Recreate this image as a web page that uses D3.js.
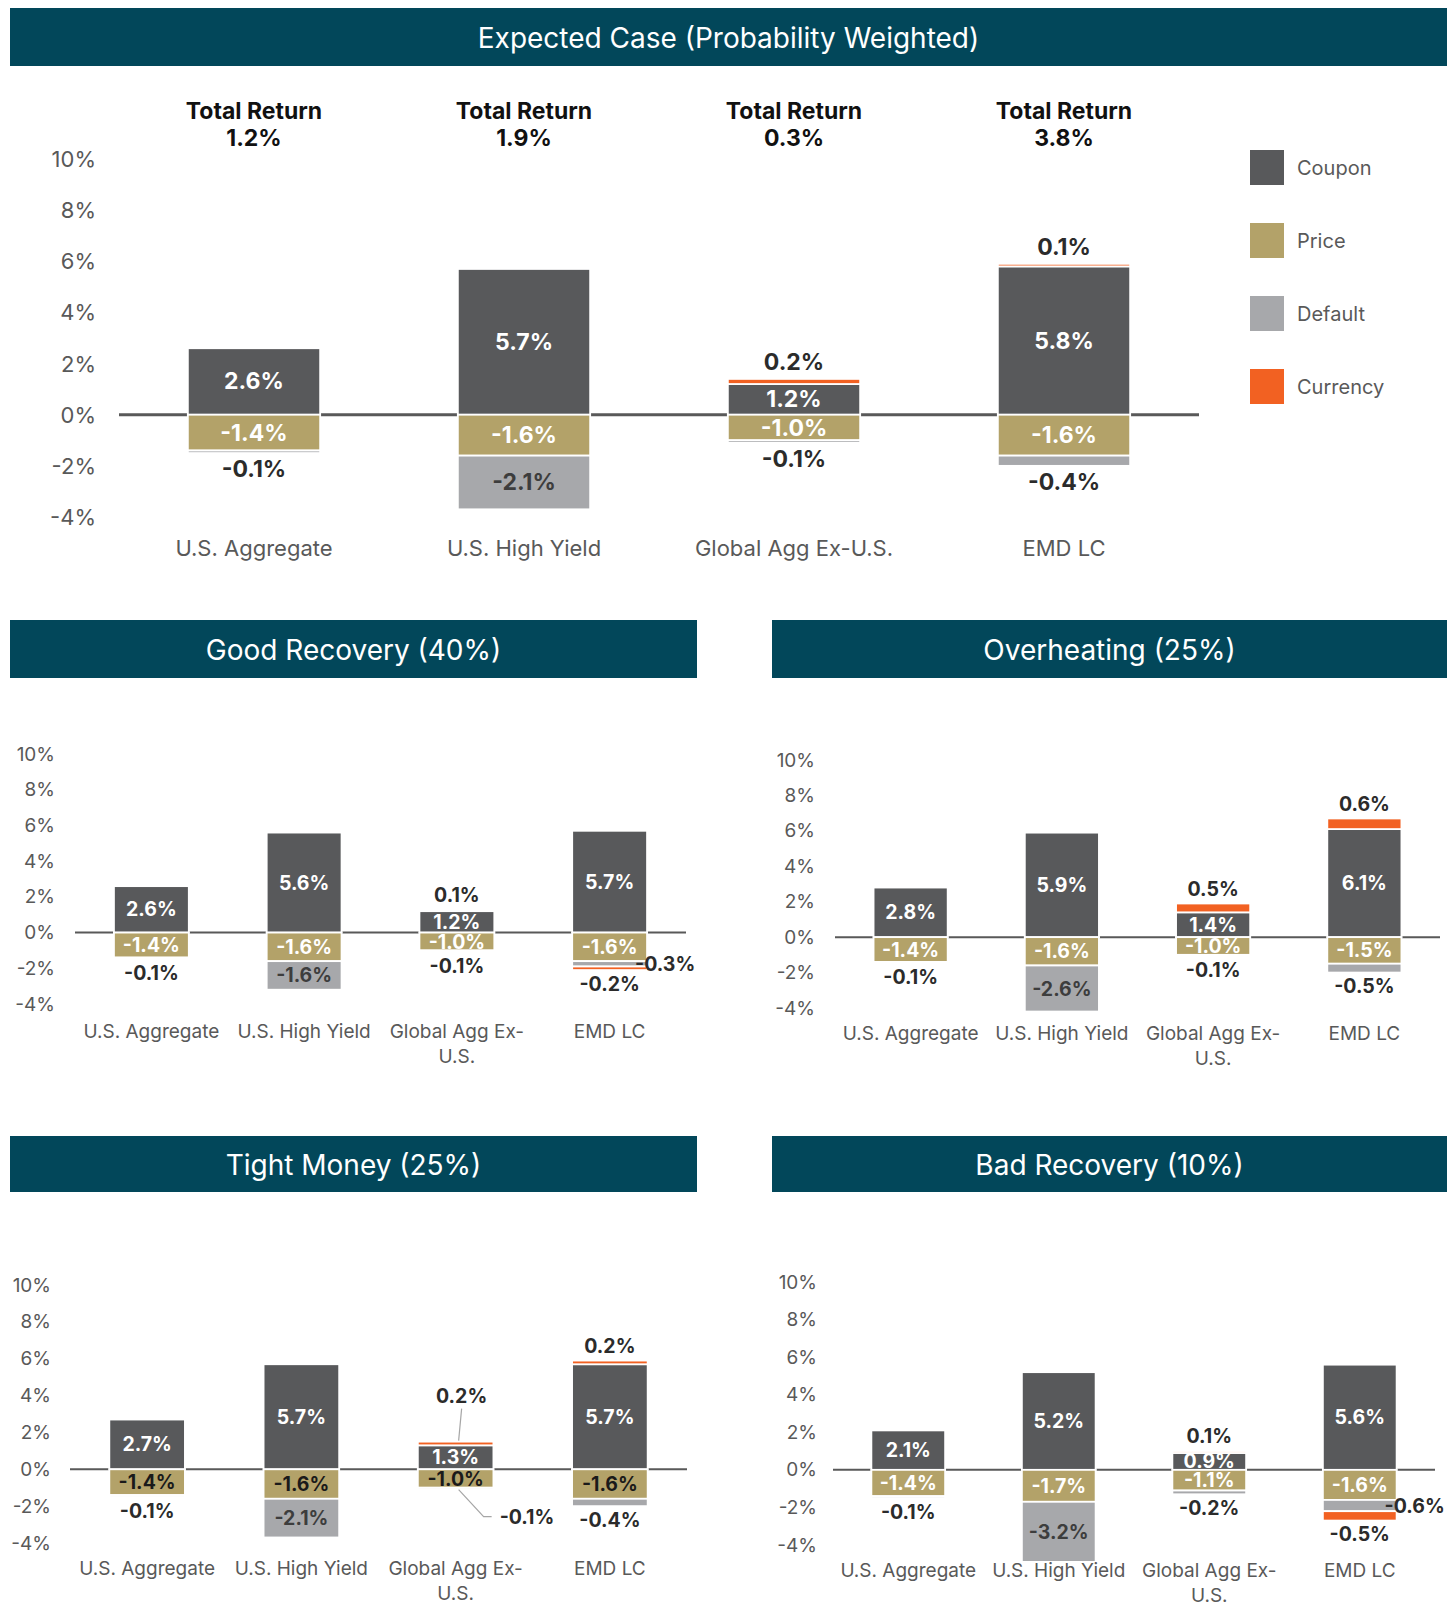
<!DOCTYPE html>
<html lang="en">
<head>
<meta charset="UTF-8">
<script src="https://d3js.org/d3.v7.min.js"></script>
<style>
  body { margin: 0; background: #fff; font-family: Inter, Roboto, sans-serif; }
  text { font-family: Inter, Roboto, sans-serif; }
</style>
</head>
<body>
<svg id="chart" width="1453" height="1610"></svg>
<script>
// ---- data ----
const categories = ["U.S. Aggregate", "U.S. High Yield", "Global Agg Ex-U.S.", "EMD LC"];
const seriesNames = ["Coupon", "Price", "Default", "Currency"];
const seriesColors = ["#58595b", "#b3a269", "#a7a8ab", "#f26122"];
const yTicks = [-4, -2, 0, 2, 4, 6, 8, 10];

const expectedTotal = [1.2, 1.9, 0.3, 3.8];
const expectedCoupon = [2.6, 5.7, 1.2, 5.8];
const expectedPrice = [-1.4, -1.6, -1.0, -1.6];
const expectedDefault = [-0.1, -2.1, -0.1, -0.4];
const expectedCurrency = [0, 0, 0.2, 0.1];

const goodCoupon = [2.6, 5.6, 1.2, 5.7];
const goodPrice = [-1.4, -1.6, -1.0, -1.6];
const goodDefault = [-0.1, -1.6, -0.1, -0.3];
const goodCurrency = [0, 0, 0.1, -0.2];

const overCoupon = [2.8, 5.9, 1.4, 6.1];
const overPrice = [-1.4, -1.6, -1.0, -1.5];
const overDefault = [-0.1, -2.6, -0.1, -0.5];
const overCurrency = [0, 0, 0.5, 0.6];

const tightCoupon = [2.7, 5.7, 1.3, 5.7];
const tightPrice = [-1.4, -1.6, -1.0, -1.6];
const tightDefault = [-0.1, -2.1, -0.1, -0.4];
const tightCurrency = [0, 0, 0.2, 0.2];

const badCoupon = [2.1, 5.2, 0.9, 5.6];
const badPrice = [-1.4, -1.7, -1.1, -1.6];
const badDefault = [-0.1, -3.2, -0.2, -0.6];
const badCurrency = [0, 0, 0.1, -0.5];

// ---- layout ----
const big = { tick: 22, cat: 22, val: 23 };
const small = { tick: 19, cat: 19, val: 19.5 };

const panels = [
  { title: "Expected Case (Probability Weighted)", values: [expectedCoupon, expectedPrice, expectedDefault, expectedCurrency],
    totals: expectedTotal, box: [10, 8, 1437, 58], xr: [119, 1199], yr: [517, 159], tickX: 96, catY: 548,
    fs: big, zeroW: 3, wrap: false, legend: true },
  { title: "Good Recovery (40%)", values: [goodCoupon, goodPrice, goodDefault, goodCurrency],
    box: [10, 620, 687, 58], xr: [75, 686], yr: [1004, 754], tickX: 55, catY: 1031, fs: small, zeroW: 2, wrap: true },
  { title: "Overheating (25%)", values: [overCoupon, overPrice, overDefault, overCurrency],
    box: [772, 620, 675, 58], xr: [835, 1440], yr: [1008, 760], tickX: 815, catY: 1033, fs: small, zeroW: 2, wrap: true },
  { title: "Tight Money (25%)", values: [tightCoupon, tightPrice, tightDefault, tightCurrency],
    box: [10, 1136, 687, 56], xr: [70, 687], yr: [1543, 1285], tickX: 51, catY: 1568, fs: small, zeroW: 2, wrap: true,
    priceDark: true, leaders: [2] },
  { title: "Bad Recovery (10%)", values: [badCoupon, badPrice, badDefault, badCurrency],
    box: [772, 1136, 675, 56], xr: [833, 1435], yr: [1545, 1282], tickX: 817, catY: 1570, fs: small, zeroW: 2, wrap: true }
];

const svg = d3.select("#chart");
const fmt = v => v.toFixed(1) + "%";
const darkText = "#2b2b2b";

panels.forEach(p => {
  const g = svg.append("g");

  // header
  g.append("rect")
    .attr("x", p.box[0]).attr("y", p.box[1])
    .attr("width", p.box[2]).attr("height", p.box[3])
    .attr("fill", "#02475a");
  g.append("text")
    .attr("x", p.box[0] + p.box[2] / 2).attr("y", p.box[1] + p.box[3] / 2 + 1)
    .attr("text-anchor", "middle").attr("dominant-baseline", "central")
    .attr("fill", "#fff").attr("font-size", 28)
    .text(p.title);

  const x = d3.scaleBand().domain(categories).range(p.xr).paddingInner(0.51).paddingOuter(0.255);
  const y = d3.scaleLinear().domain([-4, 10]).range(p.yr);

  // y tick labels (no axis line)
  g.selectAll(".ytick").data(yTicks).join("text")
    .attr("x", p.tickX).attr("y", d => y(d))
    .attr("text-anchor", "end").attr("dominant-baseline", "central")
    .attr("fill", "#595959").attr("font-size", p.fs.tick)
    .text(d => d + "%");

  // zero line
  g.append("line")
    .attr("x1", p.xr[0]).attr("x2", p.xr[1])
    .attr("y1", y(0)).attr("y2", y(0))
    .attr("stroke", "#595959").attr("stroke-width", p.zeroW);

  const rows = categories.map((c, i) => {
    const r = { cat: c };
    seriesNames.forEach((s, k) => { r[s] = p.values[k][i]; });
    return r;
  });
  const stacked = d3.stack().keys(seriesNames).offset(d3.stackOffsetDiverging)(rows);

  stacked.forEach((layer, k) => {
    g.selectAll(null).data(layer.filter(d => d[0] !== d[1])).join("rect")
      .attr("x", d => x(d.data.cat))
      .attr("width", x.bandwidth())
      .attr("y", d => y(Math.max(d[0], d[1])))
      .attr("height", d => Math.abs(y(d[0]) - y(d[1])))
      .attr("fill", seriesColors[k])
      .attr("stroke", "#fff").attr("stroke-width", 1.8);
  });

  // value labels
  const fs = p.fs.val;
  categories.forEach((c, i) => {
    const cx = x(c) + x.bandwidth() / 2;
    const right = x(c) + x.bandwidth();
    const segs = stacked.map(l => l[i]);
    const top = d3.max(segs, s => Math.max(s[0], s[1]));
    const bottom = d3.min(segs, s => Math.min(s[0], s[1]));

    stacked.forEach((layer, k) => {
      const key = seriesNames[k];
      const v = p.values[k][i];
      if (v === 0) return;
      const s = layer[i];
      const lo = Math.min(s[0], s[1]), hi = Math.max(s[0], s[1]);
      const h = Math.abs(y(lo) - y(hi));
      const mid = (y(lo) + y(hi)) / 2;
      let tx = cx, ty = mid, anchor = "middle", fill = darkText;

      if (key === "Coupon") {
        fill = "#fff";
      } else if (key === "Price") {
        fill = p.priceDark ? "#1a1a1a" : "#fff";
      } else if (h >= fs + 6) {
        fill = "#3d3d3d";
      } else if (p.leaders && p.leaders.includes(i)) {
        if (v > 0) {
          tx = cx + 6; ty = y(top) - 46;
          g.append("line").attr("x1", cx + 6).attr("y1", y(top) - 33)
            .attr("x2", cx + 3).attr("y2", y(top) - 1)
            .attr("stroke", "#a6a6a6").attr("stroke-width", 1.2);
        } else {
          const yb = y(bottom);
          g.append("polyline")
            .attr("points", [[cx + 3, yb], [cx + 28, yb + 27], [cx + 36, yb + 27]].join(" "))
            .attr("fill", "none").attr("stroke", "#a6a6a6").attr("stroke-width", 1.2);
          tx = cx + 44; ty = yb + 27; anchor = "start";
        }
      } else if (v > 0) {
        ty = y(top) - fs * 0.75;
      } else if (lo === bottom) {
        ty = y(bottom) + fs * 0.7;
      } else {
        tx = right - 12; anchor = "start";
      }

      g.append("text")
        .attr("x", tx).attr("y", ty)
        .attr("text-anchor", anchor).attr("dominant-baseline", "central")
        .attr("font-size", fs).attr("font-weight", 700)
        .attr("fill", fill)
        .text(fmt(v));
    });
  });

  // category labels
  categories.forEach(c => {
    const lines = (p.wrap && c.includes("Ex-")) ? [c.slice(0, c.indexOf("Ex-") + 3), c.slice(c.indexOf("Ex-") + 3)] : [c];
    const t = g.append("text")
      .attr("x", x(c) + x.bandwidth() / 2).attr("y", p.catY)
      .attr("text-anchor", "middle").attr("dominant-baseline", "central")
      .attr("fill", "#595959").attr("font-size", p.fs.cat);
    lines.forEach((ln, j) => {
      t.append("tspan").attr("x", x(c) + x.bandwidth() / 2).attr("dy", j === 0 ? 0 : 25).text(ln);
    });
  });

  // total return header for the expected case
  if (p.totals) {
    categories.forEach((c, i) => {
      const cx = x(c) + x.bandwidth() / 2;
      g.append("text").attr("x", cx).attr("y", 111)
        .attr("text-anchor", "middle").attr("dominant-baseline", "central")
        .attr("font-size", 23).attr("font-weight", 700).attr("fill", "#111")
        .text("Total Return");
      g.append("text").attr("x", cx).attr("y", 138)
        .attr("text-anchor", "middle").attr("dominant-baseline", "central")
        .attr("font-size", 23).attr("font-weight", 700).attr("fill", "#111")
        .text(fmt(p.totals[i]));
    });
  }

  if (p.legend) {
    const lg = g.append("g").attr("transform", "translate(1250,150)");
    seriesNames.forEach((s, k) => {
      lg.append("rect").attr("x", 0).attr("y", k * 73).attr("width", 34).attr("height", 35)
        .attr("fill", seriesColors[k]);
      lg.append("text").attr("x", 47).attr("y", k * 73 + 17.5)
        .attr("dominant-baseline", "central")
        .attr("font-size", 20).attr("fill", "#595959")
        .text(s);
    });
  }
});
</script>
</body>
</html>
